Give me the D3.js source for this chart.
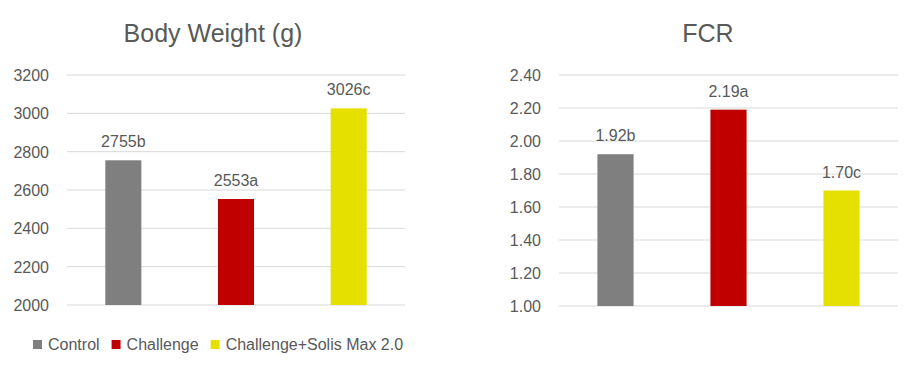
<!DOCTYPE html>
<meta charset="utf-8">
<style>
  body { margin: 0; background: #fff; }
  text { font-family: "Liberation Sans", Arial, sans-serif; fill: #595959; }
</style>
<svg width="920" height="375" id="chart"></svg>
<script src="https://d3js.org/d3.v7.min.js"></script>
<script>

// data
var groups = ["Control", "Challenge", "Challenge+Solis Max 2.0"];
var colors = ["#7f7f7f", "#c00000", "#e6e000"];

var bodyWeight = [2755, 2553, 3026];
var bwLetters = ["b", "a", "c"];
var bwTicks = [2000, 2200, 2400, 2600, 2800, 3000, 3200];

var fcr = [1.92, 2.19, 1.70];
var fcrLetters = ["b", "a", "c"];
var fcrTicks = [1.00, 1.20, 1.40, 1.60, 1.80, 2.00, 2.20, 2.40];

var svg = d3.select("#chart");

function panel(opt) {
  var g = svg.append("g");

  var x = d3.scaleBand()
    .domain(groups)
    .range([opt.left, opt.right]);

  var y = d3.scaleLinear()
    .domain([opt.ticks[0], opt.ticks[opt.ticks.length - 1]])
    .range([opt.bottom, opt.top]);

  // gridlines
  g.selectAll(".grid").data(opt.ticks).enter().append("line")
    .attr("x1", opt.left).attr("x2", opt.right)
    .attr("y1", d => y(d)).attr("y2", d => y(d))
    .attr("stroke", "#d9d9d9")
    .attr("stroke-width", 1);

  // tick labels
  g.selectAll(".tk").data(opt.ticks).enter().append("text")
    .attr("x", opt.left - 18)
    .attr("y", d => y(d) + 6)
    .attr("text-anchor", "end")
    .style("font-size", "16px")
    .text(d => opt.fmt(d));

  var bw = x.bandwidth() * 0.32;
  var vals = opt.values;

  g.selectAll(".bar").data(vals).enter().append("rect")
    .attr("x", (d, i) => x(groups[i]) + x.bandwidth() / 2 - bw / 2)
    .attr("y", d => y(d))
    .attr("width", bw)
    .attr("height", d => opt.bottom - y(d))
    .attr("fill", (d, i) => colors[i]);

  g.selectAll(".lbl").data(vals).enter().append("text")
    .attr("x", (d, i) => x(groups[i]) + x.bandwidth() / 2)
    .attr("y", d => y(d) - 13)
    .attr("text-anchor", "middle")
    .style("font-size", "16px")
    .text((d, i) => opt.fmt(d) + opt.letters[i]);

  g.append("text")
    .attr("x", opt.titleX)
    .attr("y", 42)
    .attr("text-anchor", "middle")
    .style("font-size", "25px")
    .text(opt.title);
}

panel({
  title: "Body Weight (g)", titleX: 213,
  left: 67, right: 405, top: 75, bottom: 305,
  ticks: bwTicks, values: bodyWeight, letters: bwLetters,
  fmt: d3.format("d")
});

panel({
  title: "FCR", titleX: 708,
  left: 559, right: 898, top: 75, bottom: 306,
  ticks: fcrTicks, values: fcr, letters: fcrLetters,
  fmt: d3.format(".2f")
});

// legend
var leg = svg.append("g");
var lx = 33;
groups.forEach(function(name, i) {
  leg.append("rect")
    .attr("x", lx).attr("y", 340)
    .attr("width", 9).attr("height", 9)
    .attr("fill", colors[i]);
  var t = leg.append("text")
    .attr("x", lx + 15).attr("y", 350)
    .style("font-size", "16px")
    .text(name);
  lx = lx + 15 + t.node().getComputedTextLength() + 12;
});

</script>
